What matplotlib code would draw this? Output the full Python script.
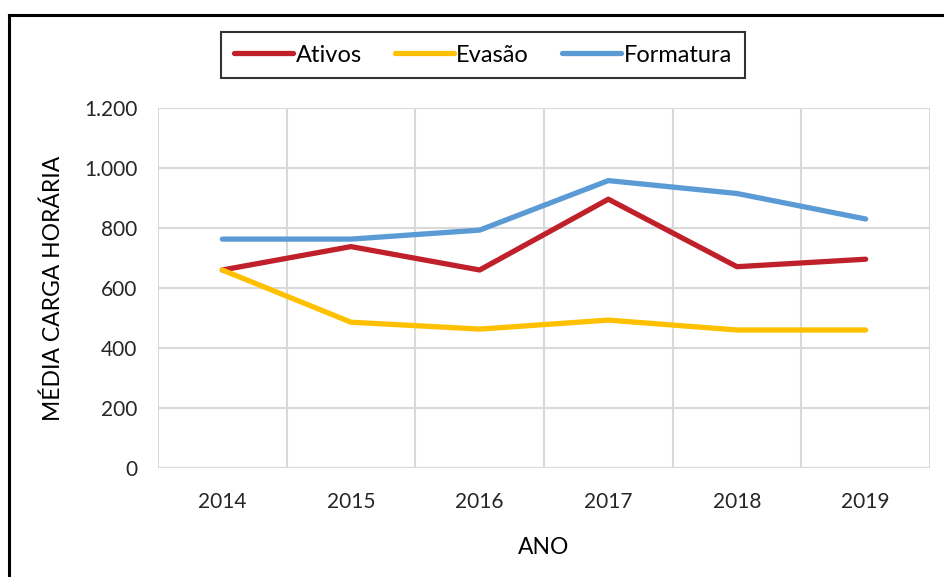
import matplotlib
matplotlib.use("Agg")
from matplotlib import pyplot as plt
from matplotlib.lines import Line2D

# dados
anos = ["2014", "2015", "2016", "2017", "2018", "2019"]
ativos = [660, 738, 660, 896, 671, 696]
evasao = [660, 486, 463, 493, 460, 460]
formatura = [763, 763, 793, 958, 915, 830]
yticks = [0, 200, 400, 600, 800, 1000, 1200]
ylabels = ["0", "200", "400", "600", "800", "1.000", "1.200"]

plt.rcParams["font.family"] = ["Lato", "DejaVu Sans"]

fig = plt.figure(figsize=(9.44, 5.77), dpi=100)
ax = fig.add_axes([158 / 944, 1 - 468 / 577, (930 - 158) / 944, (468 - 108) / 577])

xs = [i for i, _ in enumerate(anos)]
ax.plot(xs, ativos, color="#C0202A", lw=3.8, solid_capstyle="round", label="Ativos", zorder=3)
ax.plot(xs, evasao, color="#FFC000", lw=3.8, solid_capstyle="round", label="Evasão", zorder=3)
ax.plot(xs, formatura, color="#5B9BD5", lw=3.8, solid_capstyle="round", label="Formatura", zorder=3)

ax.set_xlim(-0.5, 5.5)
ax.set_ylim(0, 1200)
ax.set_yticks(yticks)
ax.set_yticklabels(ylabels)
ax.set_xticks(xs)
ax.set_xticklabels(anos)
ax.set_xticks([i - 0.5 for i in range(7)], minor=True)
ax.tick_params(which="both", length=0)
ax.tick_params(axis="y", labelsize=15, labelcolor="#262626", pad=15)
ax.tick_params(axis="x", labelsize=15, labelcolor="#262626", pad=17)
ax.grid(axis="y", which="major", color="#D9D9D9", lw=1.5)
ax.grid(axis="x", which="minor", color="#D9D9D9", lw=1.5)
ax.grid(axis="x", which="major", visible=False)
for s in ax.spines.values():
    s.set_visible(False)
ax.axhline(0, color="#D9D9D9", lw=1.5, zorder=1)

ax.set_ylabel("MÉDIA CARGA HORÁRIA", fontsize=16.5, labelpad=14)
ax.set_xlabel("ANO", fontsize=16.5, labelpad=18)

leg = fig.legend(loc="center", bbox_to_anchor=(483 / 944, 1 - 55 / 577), ncol=3,
                 fontsize=17, frameon=True, fancybox=False, handlelength=2.5,
                 handletextpad=0.1, columnspacing=1.4, borderpad=0.55)
leg.get_frame().set_edgecolor("black")
leg.get_frame().set_linewidth(1.5)

# borda da figura (so esquerda e topo aparecem)
fig.add_artist(Line2D([9 / 944, 9 / 944], [0, 1 - 15 / 577], color="black", lw=2.2))
fig.add_artist(Line2D([9 / 944, 1], [1 - 15 / 577, 1 - 15 / 577], color="black", lw=2.2))

fig.savefig("out.png", dpi=100)
